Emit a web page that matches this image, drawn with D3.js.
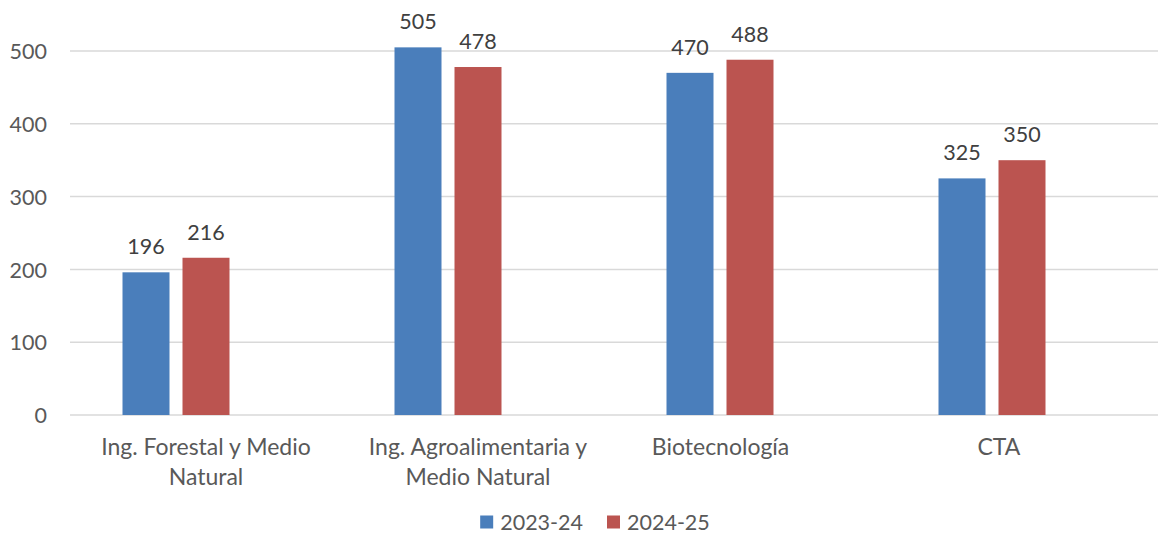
<!DOCTYPE html>
<html>
<head>
<meta charset="utf-8">
<script src="https://cdn.jsdelivr.net/npm/d3@7/dist/d3.min.js"></script>
<style>
  html, body { margin: 0; padding: 0; background: #fff; }
  text { font-family: Lato, "Open Sans", sans-serif; white-space: pre; }
</style>
</head>
<body>
<div id="chart"></div>
<script>
// datos del gráfico (los espacios finales vienen de las etiquetas originales)
const categories = [
    "Ing. Forestal y Medio Natural",
    "Ing. Agroalimentaria y Medio Natural",
    "Biotecnología\u00A0\u00A0\u00A0\u00A0\u00A0\u00A0\u00A0\u00A0\u00A0\u00A0",
    "CTA\u00A0\u00A0\u00A0\u00A0\u00A0\u00A0\u00A0\u00A0"
];
const seriesNames = ["2023-24", "2024-25", ""];   // tercera serie vacía
const values2023 = [196, 505, 470, 325];
const values2024 = [216, 478, 488, 350];
const valuesEmpty = [null, null, null, null];
const yTicks = [0, 100, 200, 300, 400, 500];

const seriesValues = [values2023, values2024, valuesEmpty];
const colors = ["#4a7ebb", "#bb5450", "#9bbb59"];

const W = 1159, H = 534;
const plot = { left: 70, right: 1158, top: 51, bottom: 415 };
const fontSize = 21.5;
const catFontSize = 23;

const svg = d3.select("#chart").append("svg")
    .attr("width", W)
    .attr("height", H);

const x0 = d3.scaleBand().domain(categories).range([plot.left, plot.right]);
const x1 = d3.scaleBand().domain(d3.range(seriesNames.length))
    .range([0, x0.bandwidth()])
    .paddingInner(0.2167)
    .paddingOuter(0.875);
const y = d3.scaleLinear().domain([0, 500]).range([plot.bottom, plot.top]);

// líneas de cuadrícula
svg.append("g")
    .selectAll("line")
    .data(yTicks)
    .join("line")
    .attr("x1", plot.left)
    .attr("x2", plot.right)
    .attr("y1", d => y(d))
    .attr("y2", d => y(d))
    .attr("stroke", "#d9d9d9")
    .attr("stroke-width", 1.5);

// eje Y
const yAxis = svg.append("g")
    .attr("transform", `translate(${plot.left - 23},0)`)
    .call(d3.axisLeft(y).tickValues(yTicks).tickSize(0).tickPadding(0));
yAxis.select(".domain").remove();
yAxis.selectAll("text")
    .attr("fill", "#595959")
    .attr("dy", "0.36em")
    .style("font-size", fontSize + "px");

// barras
const bars = [];
categories.forEach((c, i) => {
    seriesValues.forEach((vals, s) => {
        if (vals[i] != null) bars.push({ cat: c, s: s, value: vals[i] });
    });
});

svg.append("g")
    .selectAll("rect")
    .data(bars)
    .join("rect")
    .attr("x", d => x0(d.cat) + x1(d.s))
    .attr("y", d => y(d.value))
    .attr("width", x1.bandwidth())
    .attr("height", d => y(0) - y(d.value))
    .attr("fill", d => colors[d.s]);

// etiquetas de valor
svg.append("g")
    .selectAll("text")
    .data(bars)
    .join("text")
    .attr("x", d => x0(d.cat) + x1(d.s) + x1.bandwidth() / 2)
    .attr("y", d => y(d.value) - 18)
    .attr("text-anchor", "middle")
    .attr("fill", "#404040")
    .style("font-size", fontSize + "px")
    .text(d => d.value);

// etiquetas de categoría con ajuste de línea
const maxLabelWidth = x0.bandwidth() - 30;
const catLabels = svg.append("g")
    .selectAll("text")
    .data(categories)
    .join("text")
    .attr("x", d => x0(d) + x0.bandwidth() / 2)
    .attr("y", plot.bottom + 40)
    .attr("text-anchor", "middle")
    .attr("fill", "#595959")
    .style("font-size", catFontSize + "px");

catLabels.each(function (d) {
    const el = d3.select(this);
    const cx = el.attr("x");
    const words = d.split(" ");
    let line = [];
    let tspan = el.append("tspan").attr("x", cx).attr("dy", 0);
    words.forEach(w => {
        line.push(w);
        tspan.text(line.join(" "));
        if (tspan.node().getComputedTextLength() > maxLabelWidth && line.length > 1) {
            line.pop();
            tspan.text(line.join(" "));
            line = [w];
            tspan = el.append("tspan").attr("x", cx).attr("dy", 30).text(w);
        }
    });
});

// leyenda
const legendItems = seriesNames
    .map((name, i) => ({ name: name, color: colors[i] }))
    .filter(d => d.name !== "");

const legend = svg.append("g");
let lx = 0;
legendItems.forEach(item => {
    const g = legend.append("g").attr("transform", `translate(${lx},0)`);
    g.append("rect")
        .attr("x", 0)
        .attr("y", -6.5)
        .attr("width", 13)
        .attr("height", 13)
        .attr("fill", item.color);
    const t = g.append("text")
        .attr("x", 20)
        .attr("dy", "0.36em")
        .attr("fill", "#595959")
        .style("font-size", fontSize + "px")
        .text(item.name);
    lx += 20 + t.node().getComputedTextLength() + 24;
});
const legendWidth = lx - 24;
legend.attr("transform", `translate(${595 - legendWidth / 2},522)`);
</script>
</body>
</html>
